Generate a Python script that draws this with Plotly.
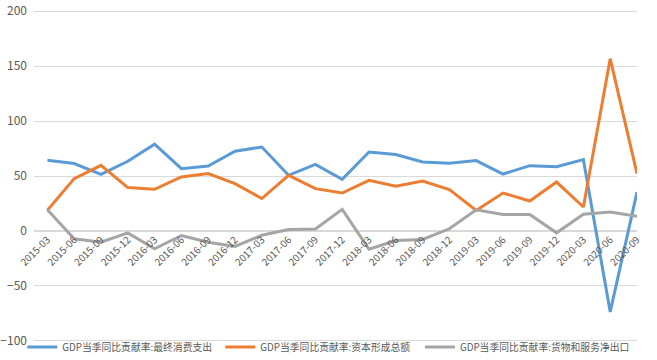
import plotly.graph_objects as go

categories = ["2015-03", "2015-06", "2015-09", "2015-12", "2016-03", "2016-06", "2016-09", "2016-12",
              "2017-03", "2017-06", "2017-09", "2017-12", "2018-03", "2018-06", "2018-09", "2018-12",
              "2019-03", "2019-06", "2019-09", "2019-12", "2020-03", "2020-06", "2020-09"]

consumption = [64.3, 61.3, 51.5, 63.4, 78.9, 56.7, 59.1, 72.6, 76.4, 50.6, 60.6, 47.0, 71.8, 69.6, 62.7, 61.5,
               64.0, 51.8, 59.4, 58.5, 64.9, -73.6, 35.3]
capital = [18.8, 47.6, 59.7, 39.5, 37.9, 49.1, 52.2, 43.1, 29.5, 50.6, 38.5, 34.5, 46.0, 40.6, 45.5, 37.6,
           18.7, 34.5, 27.2, 44.5, 21.8, 156.7, 52.2]
net_exports = [19.3, -7.1, -10.2, -1.7, -16.3, -4.1, -10.2, -14.1, -3.9, 1.3, 1.8, 19.7, -16.6, -8.7, -7.7, 2.0,
               19.3, 15.0, 15.0, -1.7, 15.2, 17.3, 13.4]

series_names = ["GDP当季同比贡献率:最终消费支出", "GDP当季同比贡献率:资本形成总额", "GDP当季同比贡献率:货物和服务净出口"]
colors = ["#5B9BD5", "#ED7D31", "#A5A5A5"]
legend_ids = ["legend", "legend2", "legend3"]
legend_x = [-0.0195, 0.309, 0.64]

FONT = "Microsoft YaHei, Noto Sans CJK SC, sans-serif"

fig = go.Figure()
for name, vals, c, lg in zip(series_names, [consumption, capital, net_exports], colors, legend_ids):
    fig.add_trace(go.Scatter(x=categories, y=vals, mode="lines", name=name, legend=lg,
                             line=dict(color=c, width=3)))

legend_common = dict(orientation="h", y=-0.015, xanchor="left", yanchor="middle", itemwidth=30,
                     font=dict(size=9.8, color="#595959", family=FONT), bgcolor="rgba(0,0,0,0)")

fig.update_layout(
    width=657, height=360,
    margin=dict(l=34, r=20, t=10, b=18, autoexpand=False),
    plot_bgcolor="white", paper_bgcolor="white",
    font=dict(family=FONT, color="#595959"),
    showlegend=True,
    legend=dict(x=legend_x[0], **legend_common),
    legend2=dict(x=legend_x[1], **legend_common),
    legend3=dict(x=legend_x[2], **legend_common),
    xaxis=dict(type="category", range=[-0.5, 22], anchor="free", position=101 / 302,
               showgrid=False, showline=False, ticks="", tickangle=-45,
               tickfont=dict(size=10, color="#595959", family=FONT), zeroline=False),
    yaxis=dict(range=[-101, 201], tickvals=[-100, -50, 0, 50, 100, 150, 200],
               showgrid=True, gridcolor="#D9D9D9", gridwidth=1,
               zeroline=True, zerolinecolor="#D9D9D9", zerolinewidth=1.5,
               showline=False, ticks="", ticklabelstandoff=6, ticklabeloverflow="allow",
               tickfont=dict(size=12, color="#595959", family=FONT)),
)

fig.write_html("out.html", config={"displayModeBar": False},
               post_script="document.body.style.margin='0px';")
